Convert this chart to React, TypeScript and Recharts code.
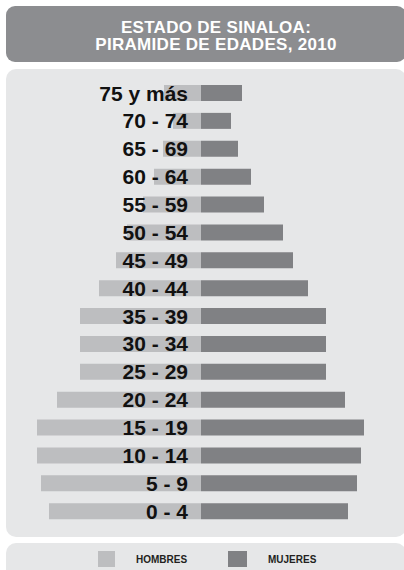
import React from 'react';
import { BarChart, Bar, XAxis, YAxis, LabelList } from 'recharts';

const grupos = ['75 y más', '70 - 74', '65 - 69', '60 - 64', '55 - 59', '50 - 54', '45 - 49', '40 - 44', '35 - 39', '30 - 34', '25 - 29', '20 - 24', '15 - 19', '10 - 14', '5 - 9', '0 - 4'];
const hombres = [37, 28, 38, 47, 58, 74, 85, 102, 121, 121, 121, 144, 164, 164, 160, 152];
const mujeres = [41, 30, 37, 50, 63, 82, 92, 107, 125, 125, 125, 144, 163, 160, 156, 147];

const data = grupos.map((g, i) => ({ grupo: g, hombres: -hombres[i], mujeres: mujeres[i] }));

const C_H = '#bdbec0';
const C_M = '#808184';
const PANEL = '#e6e7e8';
const FONT = '"Liberation Sans", Arial, sans-serif';

const renderLabel = (props: any) => {
  const { x, y, height, value } = props;
  return (
    <text
      x={Number(x) - 13}
      y={Number(y) + Number(height) / 2}
      textAnchor="end"
      dominantBaseline="central"
      fontFamily={FONT}
      fontWeight="bold"
      fontSize={21}
      fill="#111"
    >
      {value}
    </text>
  );
};

const titleLine: React.CSSProperties = {
  position: 'absolute', left: 6, width: 400, paddingLeft: 20, boxSizing: 'border-box', textAlign: 'center',
  color: '#fff', fontWeight: 'bold', fontSize: 17, lineHeight: '17px', letterSpacing: 0.3, whiteSpace: 'nowrap',
};

export default function App() {
  return (
    <div style={{ position: 'absolute', left: 0, top: 0, width: 404, height: 570, overflow: 'hidden', background: '#fff', fontFamily: FONT }}>
      <div style={{ position: 'absolute', left: 6, top: 6, width: 400, height: 56, background: '#8c8d90', borderRadius: 9 }} />
      <div style={{ ...titleLine, top: 18.5 }}>ESTADO DE SINALOA:</div>
      <div style={{ ...titleLine, top: 35.8 }}>PIRAMIDE DE EDADES, 2010</div>
      <div style={{ position: 'absolute', left: 6, top: 69, width: 400, height: 468, background: PANEL, borderRadius: 10 }} />
      <div style={{ position: 'absolute', left: 6, top: 543, width: 400, height: 50, background: PANEL, borderRadius: 10 }} />
      <div style={{ position: 'absolute', left: 0, top: 0 }}>
        <BarChart
          width={404}
          height={540}
          data={data}
          layout="vertical"
          stackOffset="sign"
          margin={{ top: 79, bottom: 15, left: 31, right: 33 }}
          barSize={16}
        >
          <XAxis type="number" domain={[-170, 170]} hide />
          <YAxis type="category" dataKey="grupo" hide width={0} />
          <Bar dataKey="hombres" stackId="a" fill={C_H} isAnimationActive={false} />
          <Bar dataKey="mujeres" stackId="a" fill={C_M} isAnimationActive={false}>
            <LabelList dataKey="grupo" content={renderLabel} />
          </Bar>
        </BarChart>
      </div>
      <div style={{ position: 'absolute', left: 98, top: 551, width: 17, height: 16, background: C_H }} />
      <div style={{ position: 'absolute', left: 136, top: 555, fontSize: 10, fontWeight: 'bold', color: '#231f20', lineHeight: '10px' }}>HOMBRES</div>
      <div style={{ position: 'absolute', left: 228, top: 551, width: 19, height: 16, background: C_M }} />
      <div style={{ position: 'absolute', left: 268, top: 555, fontSize: 10, fontWeight: 'bold', color: '#231f20', lineHeight: '10px' }}>MUJERES</div>
    </div>
  );
}
